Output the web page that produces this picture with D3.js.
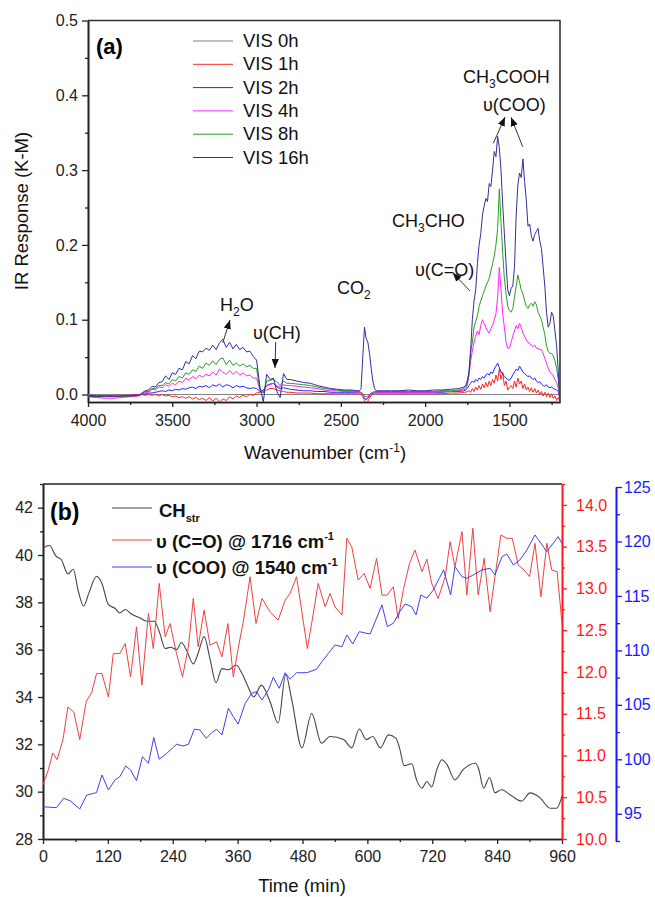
<!DOCTYPE html>
<html><head><meta charset="utf-8">
<script src="https://cdn.jsdelivr.net/npm/d3@7"></script>
<style>body{margin:0;background:#fff} svg{display:block;font-family:"Liberation Sans",Arial,sans-serif}</style>
</head><body><svg id="c" width="655" height="897"></svg>
<script>
// ---------- Panel (a) data ----------
const wavenumbers = [4000,3950,3900,3850,3800,3750,3700,
3680,3660,3640,3620,3600,3580,3560,3540,3520,3500,3480,3460,3440,3420,3400,3380,3360,3340,3320,3300,3280,3260,3240,3220,3200,3180,3160,3140,3120,3100,3080,3060,3040,3020,3000,2980,2960,2940,2920,2900,2880,2860,2840,2820,2800,
2760,2720,2680,2640,2600,2560,2520,2480,2440,2400,
2390,2380,2370,2360,2350,2340,2330,2320,2310,2300,2290,
2250,2200,2150,2100,2050,2000,1950,1900,1850,1800,1770,
1760,1750,1740,1730,1720,1710,1700,1690,1680,1670,1660,1650,1640,1630,1620,1610,1600,1590,1580,1570,1560,1550,1540,1530,1520,1510,1500,1490,1480,1470,1460,1450,1440,1430,1420,1410,1400,1390,1380,1370,1360,1350,1340,1330,1320,1310,1300,1290,1280,1270,1260,1250,1240,1230,1220,1210,1200];

const vis0Wn = [4000, 1200];
const vis0 = [0.0, 0.0];

const vis1 = [-.001,-.001,-.002,-.001,-.001,-.001,.000,
.000,-.001,.000,-.001,.000,-.002,.000,-.002,-.001,-.003, -.002,-.004,-.003,-.005,-.003,-.006,-.004,-.007,-.005,-.008, -.004,-.009,-.005,-.010,-.006,-.008,-.003,-.006,-.002,-.004, -.001,-.003,.000,-.001,.002,.003,.004,.006,.008,.008, .006,.005,.004,.003,.003,
.002,.002,.002,.001,.001,.001,.001,.001,.001,.001,
.001,.000,-.003,-.008,-.011,-.009,-.005,-.001,.001,.001,.001,
.001,.001,.001,.001,.001,.001,.001,.001,.002,.002,.003,
.003,.004,.005,.003,.008,.004,.010,.006,.012,.007,
.014,.009,.016,.010,.018,.012,.020,.015,.026,.018,
.034,.020,.030,.012,.018,.006,.010,.012,.008,.018,
.010,.022,.014,.018,.008,.014,.006,.010,.004,.009,
.003,.008,.002,.006,.000,.004,-.002,.003,-.003,.002,
-.004,.001,-.005,-.002,-.008,-.004,-.010];

const vis2 = [-.001,-.002,-.002,-.002,-.002,-.001,-.001,
.000,.001,.002,.002,.003,.004,.005,.004,.006,.005, .007,.006,.008,.007,.009,.010,.008,.011,.010,.012, .009,.013,.011,.014,.010,.013,.012,.009,.012,.010, .011,.009,.008,.009,.008,.004,.006,.012,.014,.015, .010,.008,.009,.008,.007,
.006,.005,.005,.004,.004,.003,.003,.003,.003,.003,
.003,.002,.000,-.005,-.007,-.005,-.002,.001,.002,.003,.003,
.003,.003,.003,.003,.003,.003,.003,.003,.004,.004,.005,
.006,.008,.012,.015,.018,.016,.020,.018,.022,.020,
.024,.022,.026,.028,.026,.030,.028,.034,.038,.042,
.036,.030,.028,.024,.022,.020,.019,.022,.026,.030,
.034,.032,.038,.034,.030,.028,.026,.024,.025,.022,
.020,.022,.018,.016,.017,.014,.012,.011,.013,.010,
.009,.010,.008,.007,.006,.004,-.008];

const vis4 = [-.003,-.004,-.005,-.005,-.004,-.003,-.002,
.000,.003,.003,.007,.006,.010,.009,.013,.011,.015,
.013,.018,.016,.022,.019,.024,.021,.026,.023,.027,
.025,.030,.026,.034,.030,.027,.032,.027,.031,.026,
.029,.025,.026,.022,.022,.005,.004,.012,.013,.015,
.012,.010,.013,.012,.012,
.011,.010,.009,.008,.006,.005,.005,.004,.004,.003,
.003,.002,.000,-.004,-.006,-.004,-.001,.001,.002,.003,.003,
.003,.003,.003,.003,.003,.003,.003,.004,.004,.005,.006,
.008,.012,.025,.045,.058,.070,.078,.085,.080,.092,
.100,.095,.090,.085,.082,.088,.092,.100,.108,.130,
.170,.140,.108,.090,.070,.062,.062,.070,.078,.085,
.092,.088,.095,.090,.082,.078,.073,.070,.068,.066,
.064,.066,.062,.062,.060,.060,.055,.048,.042,.035,
.030,.028,.025,.020,.016,.008,-.008];

const vis8 = [-.002,-.003,-.003,-.002,-.002,-.002,-.001,
.001,.004,.004,.008,.008,.012,.012,.016,.014,.020,
.018,.024,.022,.029,.027,.033,.031,.038,.035,.042,
.039,.045,.040,.047,.049,.040,.046,.039,.042,.038,
.041,.037,.039,.035,.035,.006,.002,.018,.019,.020,
.017,.012,.018,.015,.015,
.014,.013,.012,.010,.008,.007,.006,.005,.005,.004,
.004,.003,.001,-.002,-.003,-.002,.000,.002,.003,.004,.004,
.004,.004,.004,.004,.004,.004,.004,.005,.005,.006,.008,
.010,.015,.030,.056,.070,.090,.098,.105,.118,.125,
.132,.138,.145,.150,.155,.165,.175,.185,.200,.222,
.275,.230,.190,.155,.135,.118,.112,.110,.115,.130,
.145,.160,.150,.140,.135,.125,.118,.115,.120,.122,
.118,.124,.120,.110,.105,.100,.090,.080,.065,.058,
.055,.055,.052,.045,.035,.020,-.008];

const vis16 = [-.002,-.003,-.002,-.003,-.002,-.002,-.001,
.002,.005,.006,.011,.010,.016,.017,.025,.020,.029,
.027,.035,.033,.044,.041,.052,.048,.058,.057,.062,
.059,.066,.060,.069,.074,.063,.070,.061,.067,.060,
.063,.057,.058,.051,.046,.010,-.010,.027,.020,.022,
.004,-.004,.028,.020,.020,
.018,.016,.015,.012,.010,.008,.007,.006,.006,.005,
.005,.008,.050,.090,.075,.070,.055,.035,.018,.008,.005,
.005,.005,.005,.006,.005,.005,.006,.006,.007,.008,.010,
.012,.018,.030,.060,.100,.125,.140,.175,.200,.215,
.240,.252,.262,.258,.282,.278,.300,.325,.318,.345,
.330,.300,.255,.215,.175,.140,.132,.142,.145,.170,
.240,.280,.296,.290,.315,.285,.260,.225,.228,.212,
.205,.214,.218,.222,.205,.195,.170,.145,.110,.090,
.095,.110,.105,.085,.065,.030,-.010];

const seriesNames = ["VIS 0h","VIS 1h","VIS 2h","VIS 4h","VIS 8h","VIS 16h"];
const seriesColors = ["#808080","#ff2424","#2424ff","#ff22ff","#22a022","#30309a"];

const topXTicks = [4000,3500,3000,2500,2000,1500];
const topXMinor = [3750,3250,2750,2250,1750,1250];
const topYTicks = [0,0.1,0.2,0.3,0.4,0.5];
const topYMinor = [0.05,0.15,0.25,0.35,0.45];

// ---------- Panel (b) data ----------
const chTime = [0,12,24,34,46,56,65,75,85,99,109,121,133,142,152,164,179,192,206,216,226,236,247,256,266,278,287,298,309,320,331,343,357,368,378,390,404,420,435,449,460,479,497,515,531,556,571,585,598,610,624,639,653,660,668,682,691,701,710,719,728,738,747,762,778,800,806,815,826,836,848,866,885,901,919,938,950,960];
const chValue = [40.3,40.4,39.95,39.8,39.2,39.4,38.5,37.85,38.4,39.1,38.8,37.9,37.75,37.55,37.7,37.5,37.35,37.2,37.2,36.7,36.05,36.1,36.0,36.3,35.95,35.4,35.85,36.55,35.6,34.6,35.2,35.15,35.35,35.0,34.5,34.0,34.5,33.8,32.9,34.95,33.9,31.85,33.3,32.05,32.33,32.2,31.85,32.65,32.2,32.33,31.85,32.4,32.25,31.8,31.1,31.18,30.5,30.15,30.43,30.2,30.9,31.35,31.15,30.5,30.95,31.2,30.95,30.15,30.6,29.95,30.08,29.84,29.6,29.95,29.75,29.3,29.3,29.8];

const coTime = [0,10,18,26,37,46,57,68,80,90,99,109,121,130,142,152,162,173,183,195,204,215,226,235,247,258,269,278,287,298,309,321,331,342,352,361,371,383,394,405,420,435,448,457,469,489,500,509,522,531,540,553,562,571,583,594,605,617,627,637,648,657,667,678,688,701,710,719,731,744,753,762,775,784,795,805,816,827,836,847,858,868,879,890,900,910,921,932,941,951,960];
const coValue = [10.65,10.83,11.03,10.95,11.19,11.58,11.52,11.19,11.65,11.75,11.98,11.98,11.70,12.22,12.22,12.34,11.94,12.54,11.84,12.70,12.28,13.06,12.42,12.58,12.22,11.94,12.30,12.88,12.30,12.74,12.32,12.36,12.18,12.58,11.94,12.28,12.62,13.14,12.58,12.88,12.72,12.62,12.86,12.94,13.14,12.28,12.70,13.06,12.78,12.94,12.78,12.68,13.60,13.50,13.10,13.18,13.00,13.36,12.92,12.92,13.02,12.64,13.00,13.30,13.46,13.20,13.35,13.06,12.88,13.14,13.56,13.26,13.68,12.92,13.72,12.92,13.36,12.72,13.14,13.64,13.60,13.60,13.28,13.22,13.14,13.54,12.90,13.54,13.22,13.20,12.58];

const cooTime = [0,12,25,38,50,68,81,99,109,121,133,142,153,162,173,184,195,205,215,229,241,247,259,269,280,290,302,312,321,331,343,352,361,374,386,395,405,417,426,437,448,457,469,488,506,516,528,540,553,562,573,585,605,627,637,648,660,670,682,690,699,710,722,741,754,762,775,784,796,812,827,836,849,858,870,882,895,910,932,953,960];
const cooValue = [95.65,95.6,95.56,96.42,96.2,95.44,96.72,96.94,98.56,97.18,98.1,98.4,99.39,99.02,98.04,100.24,99.63,102.0,100.0,100.55,101.1,101.38,101.22,101.38,102.76,102.7,101.93,102.44,102.76,102.23,104.69,103.91,103.24,105.14,106.06,106.21,105.45,106.37,107.53,106.52,107.95,107.35,107.95,107.95,108.27,108.97,109.73,110.5,110.34,111.42,110.59,111.72,111.5,114.17,112.18,112.49,113.56,114.26,114.01,113.25,115.09,114.79,115.55,117.39,115.09,117.69,116.77,116.62,116.93,117.39,117.54,116.93,118.6,118.85,117.84,118.3,119.22,120.6,119.06,120.44,119.8];

const botXTicks = [0,120,240,360,480,600,720,840,960];
const botXMinor = [60,180,300,420,540,660,780,900];
const leftTicks = [28,30,32,34,36,38,40,42];
const leftMinor = [29,31,33,35,37,39,41,43];
const redTicks = [10,10.5,11,11.5,12,12.5,13,13.5,14];
const redMinor = [10.25,10.75,11.25,11.75,12.25,12.75,13.25,13.75,14.25];
const blueTicks = [95,100,105,110,115,120,125];
const blueMinor = [92.5,97.5,102.5,107.5,112.5,117.5,122.5];

// ---------- Drawing ----------
const svg = d3.select("#c");
const defs = svg.append("defs");
defs.append("marker").attr("id","ah").attr("viewBox","0 -5 10 10").attr("refX",10).attr("refY",0)
  .attr("markerWidth",9).attr("markerHeight",9).attr("markerUnits","userSpaceOnUse").attr("orient","auto")
  .append("path").attr("d","M0,-4L10,0L0,4Z").attr("fill","#111");

function styleAxis(g, color, fs){
  g.selectAll("path.domain").attr("stroke",color).attr("stroke-width",1.6);
  g.selectAll(".tick line").attr("stroke",color).attr("stroke-width",1.3);
  g.selectAll(".tick text").attr("fill",color).attr("font-size",fs).attr("font-family","Liberation Sans, Arial, sans-serif");
}

// Panel (a)
const xA = d3.scaleLinear().domain([4000,1200]).range([88,560]);
const yA = d3.scaleLinear().domain([-0.01,0.5]).range([402,20.5]);

defs.append("clipPath").attr("id","clipA").append("rect")
  .attr("x",88).attr("y",20.5).attr("width",472).attr("height",381.5);

const gA = svg.append("g");
let ax;
ax = gA.append("g").attr("transform","translate(88,0)")
  .call(d3.axisLeft(yA).tickValues(topYTicks).tickFormat(d3.format(".1f")).tickSize(6).tickSizeOuter(0).tickPadding(4));
styleAxis(ax,"#222",16);
ax = gA.append("g").attr("transform","translate(88,0)")
  .call(d3.axisLeft(yA).tickValues(topYMinor).tickFormat("").tickSize(3).tickSizeOuter(0));
styleAxis(ax,"#222",16);
ax = gA.append("g").attr("transform","translate(0,402)")
  .call(d3.axisBottom(xA).tickValues(topXTicks).tickFormat(d3.format("d")).tickSize(5).tickSizeOuter(0).tickPadding(8));
styleAxis(ax,"#222",16);
ax = gA.append("g").attr("transform","translate(0,402)")
  .call(d3.axisBottom(xA).tickValues(topXMinor).tickFormat("").tickSize(3).tickSizeOuter(0));
styleAxis(ax,"#222",16);
gA.append("path").attr("d",`M88,20.5H560V402`).attr("fill","none").attr("stroke","#333").attr("stroke-width",1.6);

const lineA = d3.line().x(d=>xA(d[0])).y(d=>yA(d[1]));
const specData = [
  d3.zip(vis0Wn, vis0), d3.zip(wavenumbers, vis1), d3.zip(wavenumbers, vis2),
  d3.zip(wavenumbers, vis4), d3.zip(wavenumbers, vis8), d3.zip(wavenumbers, vis16)
];
const plotA = gA.append("g").attr("clip-path","url(#clipA)");
specData.forEach((d,i)=>{
  plotA.append("path").datum(d).attr("d",lineA).attr("fill","none")
    .attr("stroke",seriesColors[i]).attr("stroke-width",1);
});

// legend (a)
seriesNames.forEach((n,i)=>{
  const y = 47 + i*23.3;
  gA.append("line").attr("x1",193).attr("x2",233).attr("y1",y-6).attr("y2",y-6)
    .attr("stroke",seriesColors[i]).attr("stroke-width",1);
  gA.append("text").attr("x",243).attr("y",y).attr("font-size",18.5).attr("fill","#111").text(n);
});
gA.append("text").attr("x",96).attr("y",54).attr("font-size",22).attr("font-weight","bold").text("(a)");

// axis titles (a)
gA.append("text").attr("transform","translate(28,211) rotate(-90)").attr("text-anchor","middle")
  .attr("font-size",18.5).attr("fill","#111").text("IR Response (K-M)");
const wt = gA.append("text").attr("x",325).attr("y",459).attr("text-anchor","middle").attr("font-size",18.5).attr("fill","#111");
wt.append("tspan").text("Wavenumber (cm");
wt.append("tspan").attr("font-size",12).attr("dy",-7).text("-1");
wt.append("tspan").attr("dy",7).text(")");

// annotations (a)
(function(){
  const t = gA.append("text").attr("x",220).attr("y",311).attr("font-size",18).attr("fill","#111");
  t.append("tspan").text("H"); t.append("tspan").attr("font-size",12).attr("dy",5).text("2"); t.append("tspan").attr("dy",-5).text("O");
})();
gA.append("text").attr("x",253).attr("y",339).attr("font-size",18).attr("fill","#111").text("υ(CH)");
(function(){
  const t = gA.append("text").attr("x",337).attr("y",294).attr("font-size",18).attr("fill","#111");
  t.append("tspan").text("CO"); t.append("tspan").attr("font-size",12).attr("dy",5).text("2");
})();
(function(){
  const t = gA.append("text").attr("x",392).attr("y",227).attr("font-size",18).attr("fill","#111");
  t.append("tspan").text("CH"); t.append("tspan").attr("font-size",12).attr("dy",5).text("3"); t.append("tspan").attr("dy",-5).text("CHO");
})();
gA.append("text").attr("x",415).attr("y",276).attr("font-size",18).attr("fill","#111").text("υ(C=O)");
(function(){
  const t = gA.append("text").attr("x",463).attr("y",83).attr("font-size",18).attr("fill","#111");
  t.append("tspan").text("CH"); t.append("tspan").attr("font-size",12).attr("dy",5).text("3"); t.append("tspan").attr("dy",-5).text("COOH");
})();
gA.append("text").attr("x",483).attr("y",111).attr("font-size",18).attr("fill","#111").text("υ(COO)");

const arrows = [[222.7,343,230,320],[275.7,342,275,368],[470,291,452.7,272.7],[493.3,143.3,505,117],[522.7,146.7,511,117.3]];
arrows.forEach(a=>{
  gA.append("line").attr("x1",a[0]).attr("y1",a[1]).attr("x2",a[2]).attr("y2",a[3])
    .attr("stroke","#333").attr("stroke-width",1).attr("marker-end","url(#ah)");
});

// Panel (b)
const xB = d3.scaleLinear().domain([0,960]).range([43,562]);
const yL = d3.scaleLinear().domain([28,43]).range([839,484]);
const yR = d3.scaleLinear().domain([10,14.25]).range([839,484]);
const yBl = d3.scaleLinear().domain([92.5,125]).range([841,487]);
const gB = svg.append("g");

ax = gB.append("g").attr("transform","translate(43,0)")
  .call(d3.axisLeft(yL).tickValues(leftTicks).tickFormat(d3.format("d")).tickSize(5).tickSizeOuter(0).tickPadding(5));
styleAxis(ax,"#222",16);
ax = gB.append("g").attr("transform","translate(43,0)")
  .call(d3.axisLeft(yL).tickValues(leftMinor).tickFormat("").tickSize(3).tickSizeOuter(0));
styleAxis(ax,"#222",16);
ax = gB.append("g").attr("transform","translate(0,839)")
  .call(d3.axisBottom(xB).tickValues(botXTicks).tickFormat(d3.format("d")).tickSize(5).tickSizeOuter(0).tickPadding(7));
styleAxis(ax,"#222",16);
ax = gB.append("g").attr("transform","translate(0,839)")
  .call(d3.axisBottom(xB).tickValues(botXMinor).tickFormat("").tickSize(3).tickSizeOuter(0));
styleAxis(ax,"#222",16);
gB.append("line").attr("x1",43).attr("x2",562).attr("y1",484).attr("y2",484).attr("stroke","#222").attr("stroke-width",1.6);

const RED = "#ff1a1a", BLUE = "#1a1aff";
ax = gB.append("g").attr("transform","translate(562,0)")
  .call(d3.axisRight(yR).tickValues(redTicks).tickFormat(d3.format(".1f")).tickSize(5).tickSizeOuter(0).tickPadding(9));
styleAxis(ax,RED,16);
ax = gB.append("g").attr("transform","translate(562,0)")
  .call(d3.axisRight(yR).tickValues(redMinor).tickFormat("").tickSize(3).tickSizeOuter(0));
styleAxis(ax,RED,16);
ax = gB.append("g").attr("transform","translate(616,0)")
  .call(d3.axisRight(yBl).tickValues(blueTicks).tickFormat(d3.format("d")).tickSize(6).tickSizeOuter(0).tickPadding(2));
styleAxis(ax,BLUE,16);
ax = gB.append("g").attr("transform","translate(616,0)")
  .call(d3.axisRight(yBl).tickValues(blueMinor).tickFormat("").tickSize(4).tickSizeOuter(0));
styleAxis(ax,BLUE,16);

gB.append("path").datum(d3.zip(chTime,chValue))
  .attr("d",d3.line().x(d=>xB(d[0])).y(d=>yL(d[1])).curve(d3.curveMonotoneX))
  .attr("fill","none").attr("stroke","#444").attr("stroke-width",1.1);
gB.append("path").datum(d3.zip(coTime,coValue))
  .attr("d",d3.line().x(d=>xB(d[0])).y(d=>yR(d[1])))
  .attr("fill","none").attr("stroke","#f04040").attr("stroke-width",1);
gB.append("path").datum(d3.zip(cooTime,cooValue))
  .attr("d",d3.line().x(d=>xB(d[0])).y(d=>yBl(d[1])))
  .attr("fill","none").attr("stroke","#4040f0").attr("stroke-width",1);

// legend (b)
gB.append("text").attr("x",50).attr("y",520).attr("font-size",23).attr("font-weight","bold").text("(b)");
const legB = [["#444",508],["#f04040",540],["#4040f0",567]];
legB.forEach(l=>{
  gB.append("line").attr("x1",112).attr("x2",152).attr("y1",l[1]).attr("y2",l[1]).attr("stroke",l[0]).attr("stroke-width",1);
});
(function(){
  const t = gB.append("text").attr("x",159).attr("y",517).attr("font-size",18.5).attr("font-weight","bold").attr("fill","#111");
  t.append("tspan").text("CH"); t.append("tspan").attr("font-size",11).attr("dy",5).text("str");
  const t2 = gB.append("text").attr("x",156).attr("y",548).attr("font-size",18.5).attr("font-weight","bold").attr("fill","#111");
  t2.append("tspan").text("υ (C=O) @ 1716 cm"); t2.append("tspan").attr("font-size",11).attr("dy",-8).text("-1");
  const t3 = gB.append("text").attr("x",156).attr("y",574).attr("font-size",18.5).attr("font-weight","bold").attr("fill","#111");
  t3.append("tspan").text("υ (COO) @ 1540 cm"); t3.append("tspan").attr("font-size",11).attr("dy",-8).text("-1");
})();
gB.append("text").attr("x",302).attr("y",892).attr("text-anchor","middle").attr("font-size",18.5).attr("fill","#111").text("Time (min)");
</script></body></html>
